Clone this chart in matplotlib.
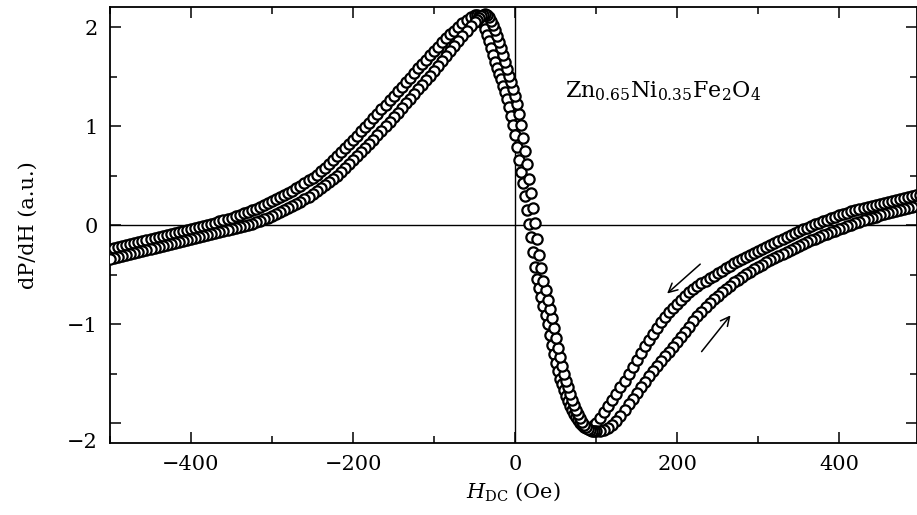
import matplotlib
matplotlib.use("Agg")
import matplotlib.pyplot as plt
from matplotlib.ticker import MultipleLocator

plt.rcParams["font.family"] = ["DejaVu Serif"]
plt.rcParams["mathtext.fontset"] = "dejavuserif"

# field values (Oe), shared by both sweeps; finer steps around the resonance
field = [
    -500, -495, -490, -485, -480, -475, -470, -465, -460, -455,
    -450, -445, -440, -435, -430, -425, -420, -415, -410, -405,
    -400, -395, -390, -385, -380, -375, -370, -365, -360, -355,
    -350, -345, -340, -335, -330, -325, -320, -315, -310, -305,
    -300, -295, -290, -285, -280, -275, -270, -265, -260, -255,
    -250, -245, -240, -235, -230, -225, -220, -215, -210, -205,
    -200, -195, -190, -185, -180, -175, -170, -165, -160, -155,
    -150, -145, -140, -135, -130, -125, -120, -115, -110, -105,
    -100, -95, -90, -85, -80, -75, -70, -65, -60, -55,
    -50, -47.5, -45, -42.5, -40, -37.5, -35, -32.5, -30, -27.5,
    -25, -22.5, -20, -17.5, -15, -12.5, -10, -7.5, -5, -2.5,
    0, 2.5, 5, 7.5, 10, 12.5, 15, 17.5, 20, 22.5,
    25, 27.5, 30, 32.5, 35, 37.5, 40, 42.5, 45, 47.5,
    50, 52.5, 55, 57.5, 60, 62.5, 65, 67.5, 70, 72.5,
    75, 77.5, 80, 82.5, 85, 87.5, 90, 92.5, 95, 97.5,
    100,
    105, 110, 115, 120, 125, 130, 135, 140, 145, 150,
    155, 160, 165, 170, 175, 180, 185, 190, 195, 200,
    205, 210, 215, 220, 225, 230, 235, 240, 245, 250,
    255, 260, 265, 270, 275, 280, 285, 290, 295, 300,
    305, 310, 315, 320, 325, 330, 335, 340, 345, 350,
    355, 360, 365, 370, 375, 380, 385, 390, 395, 400,
    405, 410, 415, 420, 425, 430, 435, 440, 445, 450,
    455, 460, 465, 470, 475, 480, 485, 490, 495, 500,
]

# sweep down (upper branch on the right side)
sweep_down = [
    -0.24, -0.23, -0.22, -0.21, -0.20, -0.19, -0.18, -0.17, -0.16, -0.15,
    -0.14, -0.13, -0.12, -0.11, -0.10, -0.09, -0.08, -0.07, -0.06, -0.05,
    -0.04, -0.03, -0.02, -0.01, 0.00, 0.01, 0.02, 0.04, 0.05, 0.06,
    0.07, 0.09, 0.10, 0.12, 0.13, 0.15, 0.16, 0.18, 0.20, 0.22,
    0.24, 0.26, 0.28, 0.30, 0.32, 0.34, 0.37, 0.39, 0.42, 0.45,
    0.48, 0.51, 0.55, 0.58, 0.62, 0.66, 0.70, 0.74, 0.78, 0.82,
    0.86, 0.90, 0.95, 0.99, 1.03, 1.08, 1.12, 1.17, 1.21, 1.26,
    1.30, 1.35, 1.39, 1.44, 1.49, 1.54, 1.59, 1.63, 1.67, 1.72,
    1.76, 1.80, 1.85, 1.89, 1.93, 1.96, 2.00, 2.04, 2.07, 2.10,
    2.12, 2.12, 2.11, 2.08, 2.04, 1.98, 1.92, 1.86, 1.79, 1.72,
    1.65, 1.59, 1.53, 1.47, 1.40, 1.34, 1.27, 1.19, 1.10, 1.01,
    0.91, 0.79, 0.66, 0.54, 0.42, 0.29, 0.15, 0.01, -0.12, -0.27,
    -0.42, -0.54, -0.64, -0.73, -0.82, -0.91, -1.00, -1.11, -1.21, -1.30,
    -1.39, -1.47, -1.55, -1.61, -1.67, -1.73, -1.78, -1.83, -1.87, -1.91,
    -1.94, -1.97, -2.00, -2.02, -2.04, -2.05, -2.05, -2.05, -2.04, -2.02,
    -2.00,
    -1.95, -1.89, -1.83, -1.77, -1.71, -1.64, -1.57, -1.50, -1.43, -1.36,
    -1.29, -1.22, -1.16, -1.10, -1.04, -0.98, -0.93, -0.88, -0.84, -0.80,
    -0.76, -0.72, -0.68, -0.65, -0.62, -0.59, -0.56, -0.53, -0.51, -0.48,
    -0.46, -0.43, -0.41, -0.38, -0.36, -0.34, -0.32, -0.30, -0.28, -0.26,
    -0.24, -0.22, -0.20, -0.18, -0.16, -0.14, -0.12, -0.10, -0.08, -0.06,
    -0.04, -0.03, -0.01, 0.01, 0.02, 0.04, 0.05, 0.07, 0.08, 0.10,
    0.11, 0.12, 0.14, 0.15, 0.16, 0.17, 0.18, 0.19, 0.20, 0.21,
    0.22, 0.23, 0.24, 0.25, 0.26, 0.27, 0.28, 0.29, 0.30, 0.30,
]

# sweep up (lower branch on the right side)
sweep_up = [
    -0.34, -0.33, -0.32, -0.31, -0.30, -0.29, -0.28, -0.27, -0.26, -0.25,
    -0.24, -0.23, -0.22, -0.21, -0.20, -0.19, -0.18, -0.17, -0.16, -0.15,
    -0.14, -0.13, -0.12, -0.11, -0.10, -0.09, -0.08, -0.07, -0.06, -0.05,
    -0.04, -0.03, -0.02, -0.01, 0.00, 0.01, 0.03, 0.04, 0.06, 0.07,
    0.09, 0.11, 0.13, 0.15, 0.17, 0.19, 0.21, 0.23, 0.26, 0.28,
    0.31, 0.34, 0.37, 0.40, 0.43, 0.47, 0.50, 0.54, 0.58, 0.62,
    0.66, 0.70, 0.74, 0.78, 0.82, 0.86, 0.91, 0.95, 1.00, 1.04,
    1.09, 1.13, 1.18, 1.23, 1.27, 1.32, 1.37, 1.41, 1.46, 1.51,
    1.56, 1.61, 1.66, 1.71, 1.76, 1.81, 1.86, 1.91, 1.96, 2.01,
    2.05, 2.07, 2.09, 2.11, 2.12, 2.13, 2.12, 2.10, 2.06, 2.02,
    1.97, 1.91, 1.85, 1.79, 1.72, 1.65, 1.58, 1.51, 1.44, 1.37,
    1.30, 1.22, 1.12, 1.01, 0.88, 0.75, 0.62, 0.47, 0.32, 0.17,
    0.02, -0.14, -0.30, -0.43, -0.56, -0.66, -0.76, -0.85, -0.94, -1.04,
    -1.14, -1.24, -1.33, -1.42, -1.50, -1.57, -1.64, -1.71, -1.77, -1.82,
    -1.87, -1.91, -1.95, -1.99, -2.02, -2.04, -2.06, -2.07, -2.08, -2.08,
    -2.08,
    -2.08, -2.07, -2.05, -2.02, -1.98, -1.93, -1.87, -1.81, -1.76, -1.70,
    -1.64, -1.58, -1.52, -1.47, -1.42, -1.37, -1.32, -1.28, -1.23, -1.18,
    -1.13, -1.08, -1.03, -0.97, -0.92, -0.88, -0.83, -0.79, -0.75, -0.72,
    -0.68, -0.65, -0.62, -0.58, -0.55, -0.52, -0.49, -0.47, -0.44, -0.42,
    -0.40, -0.37, -0.35, -0.33, -0.31, -0.29, -0.27, -0.25, -0.23, -0.21,
    -0.19, -0.17, -0.15, -0.14, -0.12, -0.10, -0.09, -0.07, -0.06, -0.04,
    -0.03, -0.01, 0.00, 0.02, 0.03, 0.05, 0.06, 0.07, 0.08, 0.10,
    0.11, 0.12, 0.13, 0.14, 0.15, 0.16, 0.17, 0.18, 0.19, 0.20,
]

fig = plt.figure(figsize=(9.17, 5.15), dpi=100)
ax = fig.add_axes([0.12, 0.14, 0.88, 0.846])

ax.axhline(0, color="black", lw=1.0, zorder=1)
ax.axvline(0, color="black", lw=1.0, zorder=1)

mk = dict(ls="none", marker="o", ms=7.4, mfc="white", mec="black", mew=1.6, zorder=3)
ax.plot(field, sweep_down, **mk)
ax.plot(field[::-1], sweep_up[::-1], **mk)

ax.set_xlim(-500, 496)
ax.set_ylim(-2.2, 2.2)

ax.xaxis.set_major_locator(MultipleLocator(200))
ax.xaxis.set_minor_locator(MultipleLocator(100))
ax.set_yticks([-2, -1, 0, 1, 2])
ax.set_yticklabels(["", "\u22121", "0", "1", "2"])
ax.yaxis.set_minor_locator(MultipleLocator(0.5))
ax.tick_params(which="both", direction="in", top=True, right=True, labelsize=15, width=1.1)
ax.tick_params(axis="y", which="major", length=8, pad=9)
ax.tick_params(axis="x", which="major", length=8, pad=9)
ax.tick_params(which="minor", length=5)
for s in ax.spines.values():
    s.set_linewidth(1.3)

# the -2 label sits at the lower frame in the original figure
ax.text(-0.016, -2.2, "\u22122", transform=ax.get_yaxis_transform(),
        ha="right", va="center", fontsize=15)

ax.set_xlabel(r"$H_{\rm DC}$ (Oe)", fontsize=15, labelpad=4)
ax.set_ylabel("dP/dH (a.u.)", fontsize=15, labelpad=21)

ax.text(62, 1.29, r"Zn$_{0.65}$Ni$_{0.35}$Fe$_2$O$_4$", fontsize=16, va="baseline")

arrow = dict(arrowstyle="->", color="black", lw=1.1, mutation_scale=16)
ax.annotate("", xy=(185, -0.71), xytext=(231, -0.376), arrowprops=arrow)
ax.annotate("", xy=(268, -0.89), xytext=(228, -1.30), arrowprops=arrow)

fig.savefig("out.png", dpi=100)
